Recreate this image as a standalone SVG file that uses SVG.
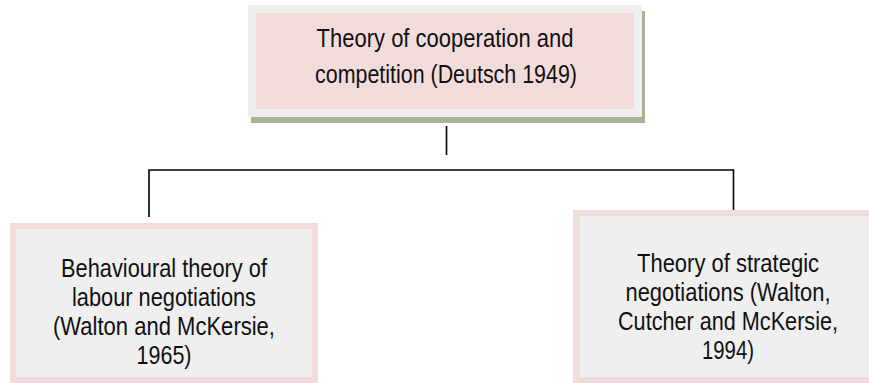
<svg xmlns="http://www.w3.org/2000/svg" width="869" height="383" viewBox="0 0 869 383">
<style>
.t{font-family:"Liberation Sans Narrow","Arial Narrow","Liberation Sans",Arial,sans-serif;font-size:26px;fill:#111;text-anchor:middle}
.ln{stroke:#000;stroke-width:1.6;fill:none}
.gray{fill:#EFEFEF}
.pink{fill:#F2DCDB}
.shadow{fill:#A8B294}
</style>
<rect width="869" height="383" fill="#fff"/>
<g id="connectors">
<line class="ln" x1="446.5" y1="126" x2="446.5" y2="155"/>
<polyline class="ln" points="149,217 149,170 733.5,170 733.5,212"/>
</g>
<g id="top">
<rect class="shadow" x="251" y="11" width="394" height="112"/>
<rect class="gray" x="248" y="5" width="394" height="112"/>
<rect class="pink" x="256" y="13" width="378" height="96"/>
<text class="t" x="445" y="47" textLength="257" lengthAdjust="spacingAndGlyphs">Theory of cooperation and</text>
<text class="t" x="446" y="83" textLength="262" lengthAdjust="spacingAndGlyphs">competition (Deutsch 1949)</text>
</g>
<g id="left">
<rect class="pink" x="10" y="223" width="308" height="160"/>
<rect class="gray" x="16" y="229" width="296" height="148"/>
<text class="t" x="164" y="277" textLength="206" lengthAdjust="spacingAndGlyphs">Behavioural theory of</text>
<text class="t" x="164" y="306" textLength="184" lengthAdjust="spacingAndGlyphs">labour negotiations</text>
<text class="t" x="164" y="335" textLength="222" lengthAdjust="spacingAndGlyphs">(Walton and McKersie,</text>
<text class="t" x="164" y="364" textLength="55" lengthAdjust="spacingAndGlyphs">1965)</text>
</g>
<g id="right">
<rect class="pink" x="573" y="210" width="296" height="173"/>
<rect class="gray" x="580" y="216" width="289" height="161"/>
<text class="t" x="728" y="272" textLength="182" lengthAdjust="spacingAndGlyphs">Theory of strategic</text>
<text class="t" x="728" y="301" textLength="205" lengthAdjust="spacingAndGlyphs">negotiations (Walton,</text>
<text class="t" x="728" y="330" textLength="220" lengthAdjust="spacingAndGlyphs">Cutcher and McKersie,</text>
<text class="t" x="728" y="359" textLength="52" lengthAdjust="spacingAndGlyphs">1994)</text>
</g>
</svg>
